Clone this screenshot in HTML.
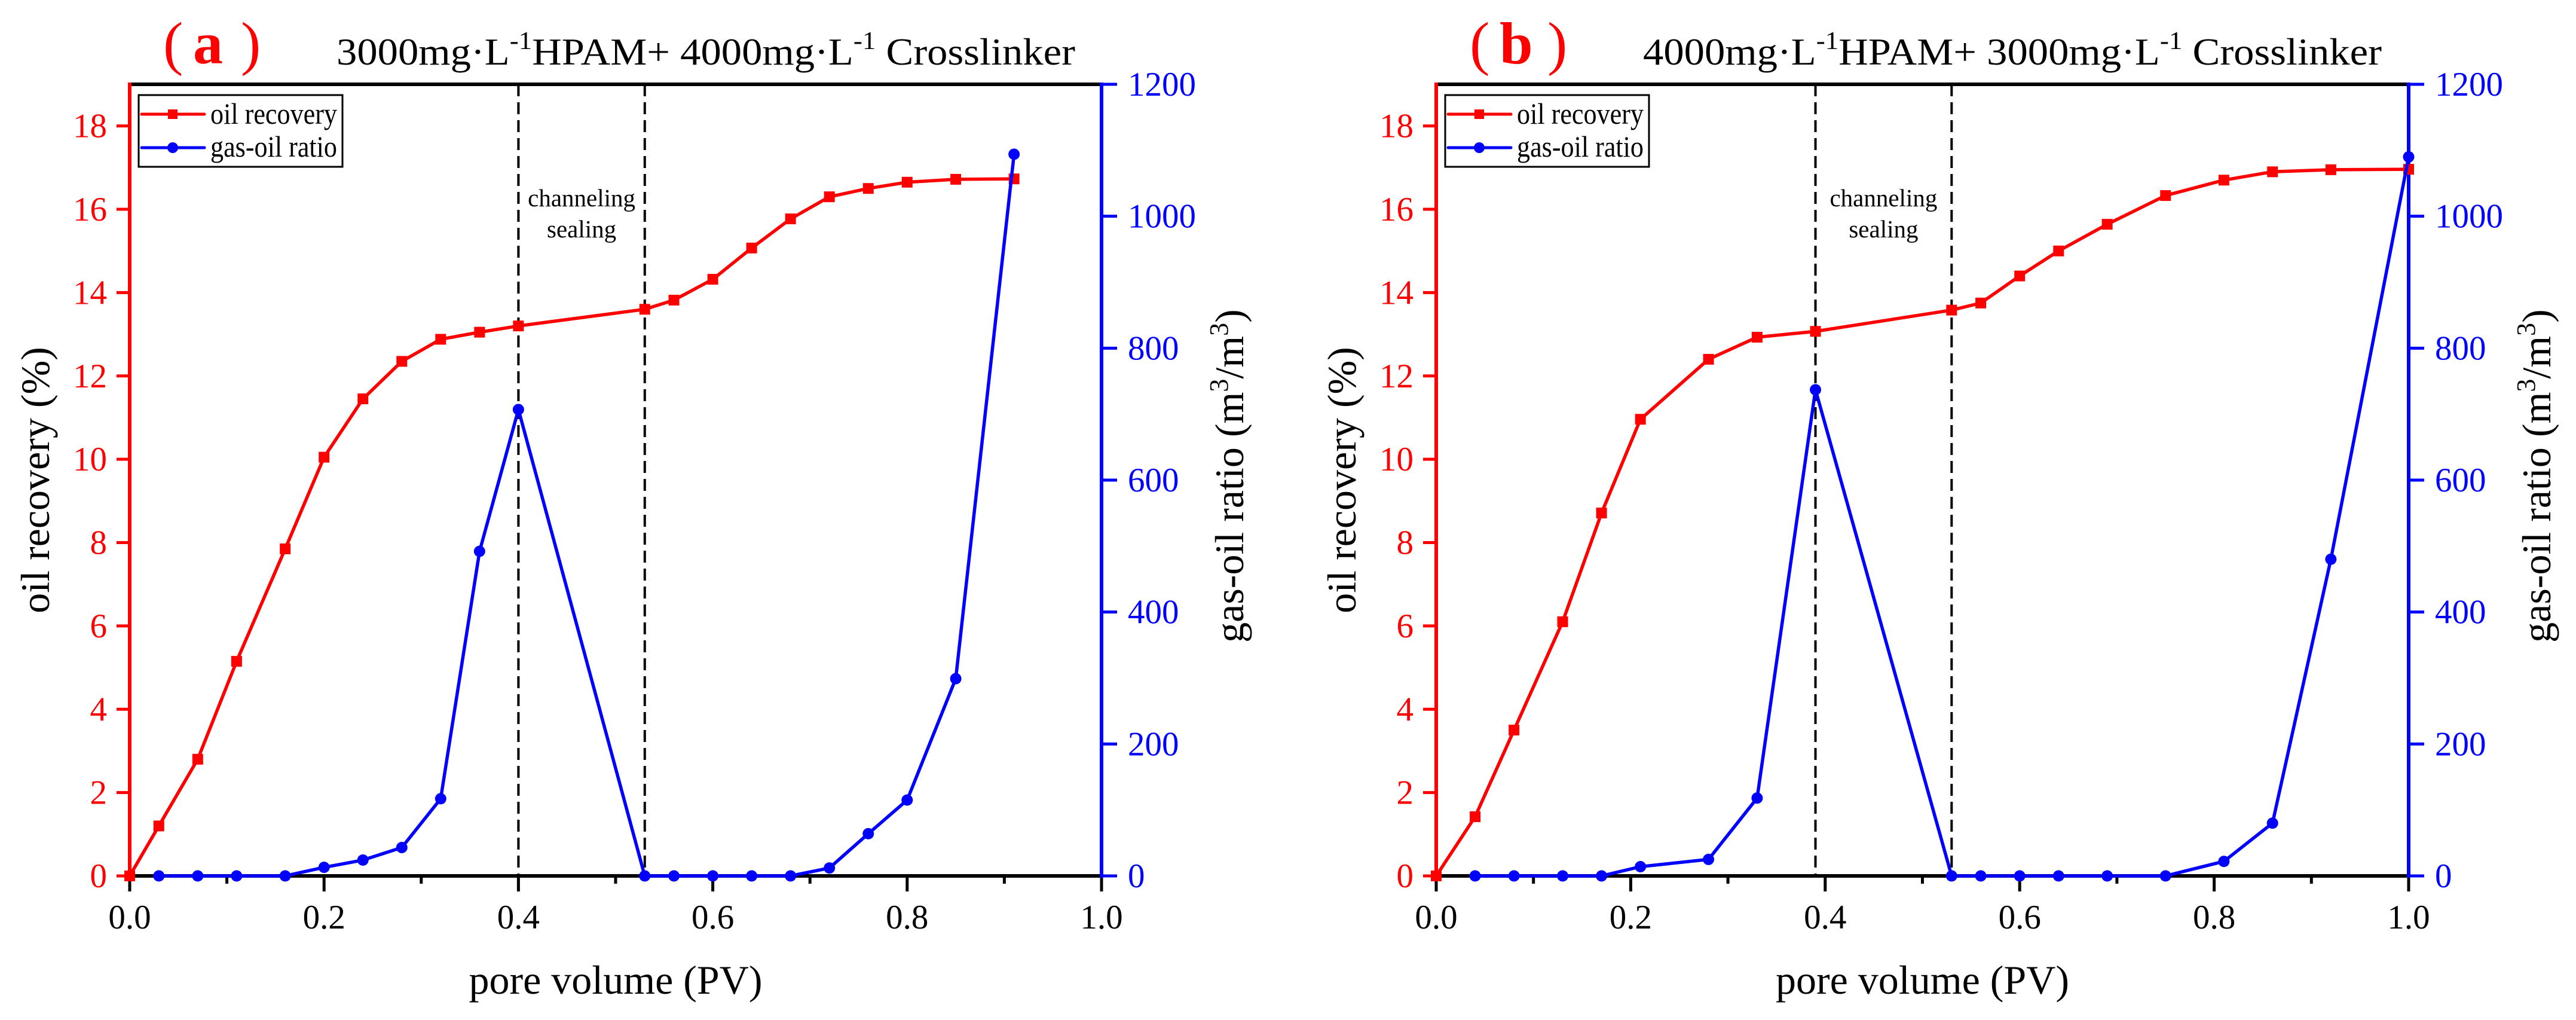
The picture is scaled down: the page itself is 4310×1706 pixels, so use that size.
<!DOCTYPE html>
<html><head><meta charset="utf-8"><title>oil recovery and gas-oil ratio</title>
<style>html,body{margin:0;padding:0;background:#fff;}svg{display:block;font-family:"Liberation Serif",serif;}</style>
</head><body>
<svg id="fig" width="4310" height="1706" viewBox="0 0 4310 1706" xmlns="http://www.w3.org/2000/svg"></svg>
<script>
// ---- data ----
const pvA = [0,0.03,0.07,0.11,0.16,0.20,0.24,0.28,0.32,0.36,0.40,0.53,0.56,0.60,0.64,0.68,0.72,0.76,0.80,0.85,0.91];
const oilA = [0,1.2,2.8,5.15,7.85,10.05,11.45,12.35,12.88,13.05,13.2,13.6,13.82,14.32,15.07,15.77,16.3,16.5,16.65,16.72,16.73];
const gorPvA = [0.03,0.07,0.11,0.16,0.20,0.24,0.28,0.32,0.36,0.40,0.53,0.56,0.60,0.64,0.68,0.72,0.76,0.80,0.85,0.91];
const gorA = [0,0,0,0,13,24,43,117,492,707,0,0,0,0,0,12,64,115,299,1094];
const pvB = [0,0.04,0.08,0.13,0.17,0.21,0.28,0.33,0.39,0.53,0.56,0.60,0.64,0.69,0.75,0.81,0.86,0.92,1.0];
const oilB = [0,1.42,3.5,6.1,8.71,10.96,12.4,12.93,13.07,13.58,13.75,14.4,15.0,15.64,16.33,16.7,16.9,16.95,16.96];
const gorPvB = [0.04,0.08,0.13,0.17,0.21,0.28,0.33,0.39,0.53,0.56,0.60,0.64,0.69,0.75,0.81,0.86,0.92,1.0];
const gorB = [0,0,0,0,14,25,118,737,0,0,0,0,0,0,22,80,480,1090];
const dashA = [0.40,0.53];
const dashB = [0.39,0.53];
const xTicks = ["0.0","0.2","0.4","0.6","0.8","1.0"];
const leftTicks = ["0","2","4","6","8","10","12","14","16","18"];
const rightTicks = ["0","200","400","600","800","1000","1200"];

const NS="http://www.w3.org/2000/svg";
const svg=document.getElementById('fig');
function mk(tag,attrs,parent,text){const e=document.createElementNS(NS,tag);for(const k in attrs)e.setAttribute(k,attrs[k]);if(text!==undefined)e.textContent=text;(parent||svg).appendChild(e);return e;}

function panel(x0,x1,key,c1,c2,pv,oil,gpv,gor,dash){
  const top=141,bot=1465,W=x1-x0;
  const X=v=>x0+v*W, YL=v=>bot-v/19*(bot-top), YR=v=>bot-v/1200*(bot-top);
  const g=mk('g',{});
  
  
  // panel label
  const pl=mk('text',{y:106,'font-size':100,fill:'#f00'},g);
  
  
  mk('tspan',{x:x0+56,'font-weight':'normal'},pl,'(');
  mk('tspan',{x:x0+106,'font-weight':'bold'},pl,key);
  mk('tspan',{x:x0+186,'font-weight':'normal'},pl,')');
  // title
  const t=mk('text',{x:x0+346,y:108,'font-size':64,fill:'#000',textLength:1236,lengthAdjust:'spacingAndGlyphs'},g);
  
  
  mk('tspan',{},t,c1+'mg·L');
  mk('tspan',{dy:-26,'font-size':42},t,'-1');
  mk('tspan',{dy:26},t,'HPAM+ '+c2+'mg·L');
  mk('tspan',{dy:-26,'font-size':42},t,'-1');
  mk('tspan',{dy:26},t,' Crosslinker');
  // dashed lines
  dash.forEach((d,i)=>{const l=mk('line',{x1:X(d),x2:X(d),y1:top,y2:bot,stroke:'#000','stroke-width':4,'stroke-dasharray':'20 10'},g);
    
    });
  const ann=mk('text',{x:(X(dash[0])+X(dash[1]))/2,y:345,'font-size':41,'text-anchor':'middle'},g);
  
  
  mk('tspan',{x:(X(dash[0])+X(dash[1]))/2,y:345},ann,'channeling');
  mk('tspan',{x:(X(dash[0])+X(dash[1]))/2,y:397},ann,'sealing');
  // axes
  const ta=mk('line',{x1:x0,x2:x1,y1:top,y2:top,stroke:'#000','stroke-width':6},g);
  
  const ba=mk('line',{x1:x0,x2:x1,y1:bot,y2:bot,stroke:'#000','stroke-width':6},g);
  
  for(let i=0;i<=10;i++){const v=i/10;mk('line',{x1:X(v),x2:X(v),y1:bot,y2:bot+(i%2?13:26),stroke:'#000','stroke-width':5},g);}
  xTicks.forEach(s=>{const tx=mk('text',{x:X(parseFloat(s)),y:1553,'font-size':57,'text-anchor':'middle'},g,s);
    });
  const xt=mk('text',{x:(x0+x1)/2,y:1662,'font-size':68,'text-anchor':'middle'},g,'pore volume (PV)');
  
  const la=mk('line',{x1:x0,x2:x0,y1:top-3,y2:bot+3,stroke:'#f00','stroke-width':6},g);
  
  leftTicks.forEach(s=>{const v=+s;mk('line',{x1:x0-22,x2:x0,y1:YL(v),y2:YL(v),stroke:'#f00','stroke-width':5},g);
    const tx=mk('text',{x:x0-38,y:YL(v)+19,'font-size':57,'text-anchor':'end',fill:'#f00'},g,s);
    });
  const lt=mk('text',{transform:`translate(${x0-135},803) rotate(-90)`,'font-size':68,'text-anchor':'middle'},g,'oil recovery (%)');
  
  const ra=mk('line',{x1:x1,x2:x1,y1:top-3,y2:bot+3,stroke:'#00f','stroke-width':6},g);
  
  rightTicks.forEach(s=>{const v=+s;mk('line',{x1:x1,x2:x1+26,y1:YR(v),y2:YR(v),stroke:'#00f','stroke-width':5},g);
    const tx=mk('text',{x:x1+44,y:YR(v)+19,'font-size':57,fill:'#00f'},g,s);
    });
  const rt=mk('text',{transform:`translate(${x1+237},796) rotate(-90)`,'font-size':68,'text-anchor':'middle'},g);
  
  mk('tspan',{},rt,'gas-oil ratio (m');mk('tspan',{dy:-26,'font-size':44},rt,'3');
  mk('tspan',{dy:26},rt,'/m');mk('tspan',{dy:-26,'font-size':44},rt,'3');mk('tspan',{dy:26},rt,')');
  // series
  const rl=mk('polyline',{points:pv.map((p,i)=>X(p)+','+YL(oil[i])).join(' '),fill:'none',stroke:'#f00','stroke-width':5.5,'stroke-linejoin':'round'},g);
  
  pv.forEach((p,i)=>{const m=mk('rect',{x:X(p)-9,y:YL(oil[i])-9,width:18,height:18,fill:'#f00'},g);
    });
  const bl=mk('polyline',{points:gpv.map((p,i)=>X(p)+','+YR(gor[i])).join(' '),fill:'none',stroke:'#00f','stroke-width':5.5,'stroke-linejoin':'round'},g);
  
  gpv.forEach((p,i)=>{const m=mk('circle',{cx:X(p),cy:YR(gor[i]),r:9.5,fill:'#00f'},g);
    });
  // legend
  const lg=mk('g',{},g);
  
  mk('rect',{x:x0+15,y:159,width:341,height:120,fill:'#fff',stroke:'#000','stroke-width':3},lg);
  mk('line',{x1:x0+20,x2:x0+125,y1:191,y2:191,stroke:'#f00','stroke-width':5,'stroke-linecap':'round'},lg);
  mk('rect',{x:x0+64,y:183,width:16,height:16,fill:'#f00'},lg);
  mk('line',{x1:x0+20,x2:x0+125,y1:247,y2:247,stroke:'#00f','stroke-width':5,'stroke-linecap':'round'},lg);
  mk('circle',{cx:x0+72,cy:247,r:9,fill:'#00f'},lg);
  const e1=mk('text',{x:x0+135,y:207,'font-size':50,textLength:212,lengthAdjust:'spacingAndGlyphs'},lg,'oil recovery');
  
  const e2=mk('text',{x:x0+135,y:262,'font-size':50,textLength:212,lengthAdjust:'spacingAndGlyphs'},lg,'gas-oil ratio');
  
}
panel(217,1843,'a','3000','4000',pvA,oilA,gorPvA,gorA,dashA);
panel(2403,4030,'b','4000','3000',pvB,oilB,gorPvB,gorB,dashB);
</script>
</body></html>
